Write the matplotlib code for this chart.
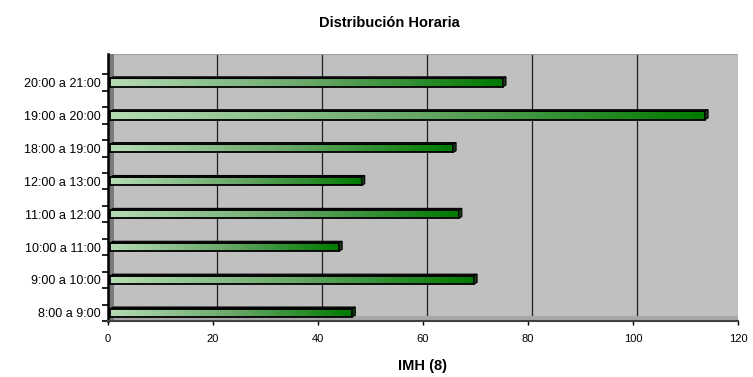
import numpy as np
import matplotlib
matplotlib.use("Agg")
import matplotlib.pyplot as plt
from matplotlib.patches import Rectangle, Polygon
from matplotlib.colors import LinearSegmentedColormap

plt.rcParams["font.family"] = ["Liberation Sans", "DejaVu Sans"]

categories = ["8:00 a 9:00", "9:00 a 10:00", "10:00 a 11:00", "11:00 a 12:00",
              "12:00 a 13:00", "18:00 a 19:00", "19:00 a 20:00", "20:00 a 21:00"]
imh_values = [46.5, 69.7, 44.0, 66.8, 48.3, 65.7, 113.7, 75.2]
x_ticks = [0, 20, 40, 60, 80, 100, 120]

green_cmap = LinearSegmentedColormap.from_list("grn", ["#b4dcb4", "#6aa86a", "#007a00"])

fig = plt.figure(figsize=(7.53, 3.77), dpi=100)
ax = fig.add_axes([108 / 753, 1 - 321 / 377, 630 / 753, 267 / 377])
ax.set_xlim(0, 120)
ax.set_ylim(-0.21, 7.87)
ax.set_facecolor("#c0c0c0")

# back wall gridlines (slight 3D offset)
for t in x_ticks[1:-1]:
    ax.axvline(t + 0.7, color="#202020", lw=0.9, zorder=1)
ax.axvline(120.3, color="#808080", lw=2.5, zorder=1)
ax.axhline(7.87, color="#a0a0a0", lw=1.5, zorder=1)

# left wall and floor
ax.add_patch(Rectangle((0, 0), 0.009, 1, transform=ax.transAxes,
                       facecolor="#7a7a7a", edgecolor="none", zorder=2))
ax.add_patch(Rectangle((0, 0), 1, 0.018, transform=ax.transAxes,
                       facecolor="#a8a8a8", edgecolor="none", zorder=1))

h = 0.25
grad = np.linspace(0, 1, 256).reshape(1, -1)
for i, v in enumerate(imh_values):
    y0 = i - h / 2
    ax.imshow(grad, cmap=green_cmap, extent=[0.4, v, y0, y0 + h],
              aspect="auto", zorder=3, interpolation="bilinear")
    ax.add_patch(Rectangle((0.4, y0), v - 0.4, h, facecolor="none",
                           edgecolor="black", lw=1.3, zorder=4))
    # top face
    ax.add_patch(Polygon([(0.4, y0 + h), (v, y0 + h), (v + 0.6, y0 + h + 0.05),
                          (1.0, y0 + h + 0.05)], closed=True,
                         facecolor="#101010", edgecolor="black", lw=0.8, zorder=4))
    # side face
    ax.add_patch(Polygon([(v, y0), (v, y0 + h), (v + 0.6, y0 + h + 0.05),
                          (v + 0.6, y0 + 0.05)], closed=True,
                         facecolor="#1a3a1a", edgecolor="black", lw=0.8, zorder=4))

ax.set_xticks(x_ticks)
ax.set_xticklabels([str(t) for t in x_ticks], fontsize=8)
ax.set_yticks(range(len(categories)))
ax.set_yticklabels(categories, fontsize=9)
ax.set_yticks([i + d for i in range(len(categories)) for d in (-0.25, 0.25)], minor=True)
ax.tick_params(axis="y", which="major", length=0, pad=5)
ax.tick_params(axis="y", which="minor", length=4, width=1.2, direction="out")
ax.tick_params(axis="x", length=3, width=1, direction="out", pad=6)

for s in ["top", "right"]:
    ax.spines[s].set_visible(False)
ax.spines["left"].set_linewidth(1.8)
ax.spines["bottom"].set_linewidth(1.5)
ax.spines["bottom"].set_color("#404040")

fig.text(389 / 753, 1 - 23 / 377, "Distribución Horaria", ha="center", va="center",
         fontsize=10.5, fontweight="bold")
ax.set_xlabel("IMH (8)", fontsize=10.5, fontweight="bold", labelpad=11)

fig.savefig("out.png", dpi=100)
